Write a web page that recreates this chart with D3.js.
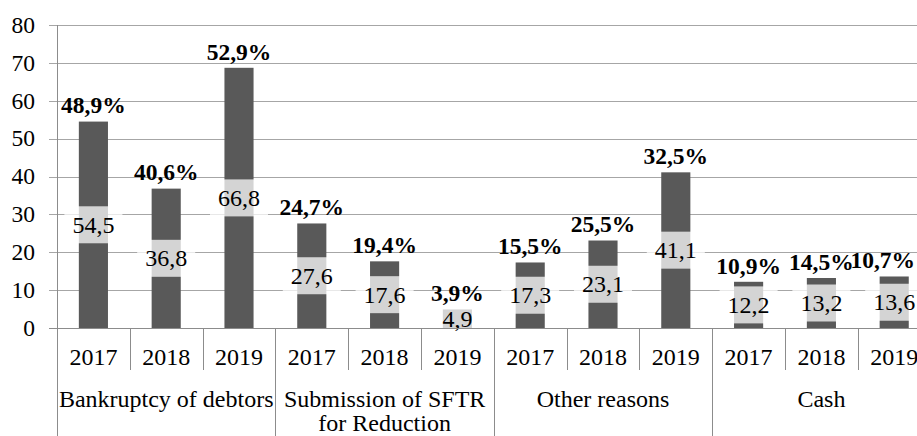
<!DOCTYPE html>
<head>
  <meta charset="utf-8">
  <title>Reasons</title>
  <style>
    body {margin: 0; background: #fff;}
    svg {display: block;}
    .grid line {stroke: #a6a6a6; stroke-width: 1; shape-rendering: crispEdges;}
    .sep {stroke: #8c8c8c; stroke-width: 1; shape-rendering: crispEdges;}
  </style>
</head>
<body>
  <svg width="917" height="436"></svg>
  <script src="https://cdn.jsdelivr.net/npm/d3@7"></script>
  <script>
    // data
    var groups = [["Bankruptcy of debtors"], ["Submission of SFTR", "for Reduction"], ["Other reasons"], ["Cash"]];
    var years = ["2017", "2018", "2019"];
    var amounts = [54.5, 36.8, 68.7, 27.6, 17.6, 4.9, 17.3, 23.1, 41.1, 12.2, 13.2, 13.6];
    var amountLabels = ["54,5", "36,8", "66,8", "27,6", "17,6", "4,9", "17,3", "23,1", "41,1", "12,2", "13,2", "13,6"];
    var shares = [48.9, 40.6, 52.9, 24.7, 19.4, 3.9, 15.5, 25.5, 32.5, 10.9, 14.5, 10.7];
    var yTicks = [0, 10, 20, 30, 40, 50, 60, 70, 80];

    var FONT = "'Liberation Serif'";
    var svg = d3.select("svg"),
        margin = {top: 25, left: 57},
        width = 873.6,
        height = 303,
        graph = svg.append("g").attr("transform", "translate(" + margin.left + "," + margin.top + ")");

    var n = amounts.length;
    var x = d3.scaleBand().domain(d3.range(n)).range([0, width]),
        y = d3.scaleLinear().domain([0, 80]).range([height, 0]);
    var barW = x.bandwidth() * 0.4;
    var comma = function(v) { return String(v).replace(".", ","); };

    //gridlines + y labels
    var grid = graph.append("g").attr("class", "grid");
    grid.selectAll("line").data(yTicks).enter().append("line")
        .attr("x1", -8).attr("x2", width)
        .attr("y1", function(d) { return Math.round(y(d)) + 0.5; })
        .attr("y2", function(d) { return Math.round(y(d)) + 0.5; });
    graph.append("g").selectAll("text").data(yTicks).enter().append("text")
        .style("font-family", FONT)
        .attr("x", -22)
        .attr("y", function(d) { return y(d); })
        .attr("dy", "0.33em")
        .attr("text-anchor", "end")
        .attr("font-size", 23.5)
        .attr("fill", "#000")
        .text(function(d) { return d; });

    //bars
    graph.append("g").selectAll("rect").data(amounts).enter().append("rect")
        .attr("x", function(d, i) { return x(i) + (x.bandwidth() - barW) / 2; })
        .attr("y", function(d) { return y(d); })
        .attr("width", barW)
        .attr("height", function(d) { return height - y(d); })
        .attr("fill", "#595959");

    //value labels with half-transparent white boxes
    var vl = graph.append("g").selectAll("g").data(amounts).enter().append("g")
        .attr("transform", function(d, i) { return "translate(" + (x(i) + x.bandwidth() / 2) + "," + y(d / 2) + ")"; });
    vl.append("rect")
        .attr("fill", "#fff").attr("fill-opacity", 0.74)
        .attr("y", -18.5).attr("height", 37);
    vl.append("text")
        .style("font-family", FONT)
        .attr("text-anchor", "middle")
        .attr("dy", "0.33em")
        .attr("font-size", 24)
        .attr("fill", "#000")
        .text(function(d, i) { return amountLabels[i]; });
    vl.each(function() {
      var g = d3.select(this), w = g.select("text").node().getComputedTextLength() + 16;
      g.select("rect").attr("x", -w / 2).attr("width", w);
    });

    //axis line and separators
    graph.append("line").attr("class", "sep")
        .attr("x1", -8).attr("x2", width)
        .attr("y1", height + 0.5).attr("y2", height + 0.5);
    graph.append("g").selectAll("line").data(d3.range(n)).enter().append("line")
        .attr("class", "sep")
        .attr("x1", function(i) { return Math.round(x(i)) + 0.5; })
        .attr("x2", function(i) { return Math.round(x(i)) + 0.5; })
        .attr("y1", function(i) { return i == 0 ? 0 : height; })
        .attr("y2", function(i) { return i % 3 == 0 ? 411 : height + 42; });

    //year labels
    graph.append("g").selectAll("text").data(d3.range(n)).enter().append("text")
        .style("font-family", FONT)
        .attr("x", function(i) { return x(i) + x.bandwidth() / 2; })
        .attr("y", height + 29)
        .attr("dy", "0.33em")
        .attr("text-anchor", "middle")
        .attr("font-size", 24)
        .text(function(i) { return years[i % 3]; });

    //category labels
    var cat = graph.append("g").selectAll("text").data(groups).enter().append("text")
        .style("font-family", FONT)
        .attr("text-anchor", "middle")
        .attr("font-size", 24)
        .attr("transform", function(d, j) { return "translate(" + (x(j * 3) + x.bandwidth() * 1.5) + "," + (height + 71) + ")"; });
    cat.selectAll("tspan").data(function(d) { return d; }).enter().append("tspan")
        .attr("x", 0)
        .attr("y", function(d, k) { return k * 24; })
        .attr("dy", "0.33em")
        .text(function(d) { return d; });

    //share labels, kept inside the picture on the right
    graph.append("g").selectAll("text").data(shares).enter().append("text")
        .style("font-family", FONT)
        .attr("y", function(d, i) { return y(amounts[i]) - 16; })
        .attr("dy", "0.33em")
        .attr("text-anchor", "middle")
        .attr("font-size", 23.5)
        .attr("font-weight", "bold")
        .text(function(d) { return comma(d) + "%"; })
        .attr("x", function(d, i) {
          var cx = x(i) + x.bandwidth() / 2,
              half = this.getComputedTextLength() / 2,
              maxX = +svg.attr("width") - margin.left - 2;
          return Math.min(cx, maxX - half);
        });
  </script>
</body>
